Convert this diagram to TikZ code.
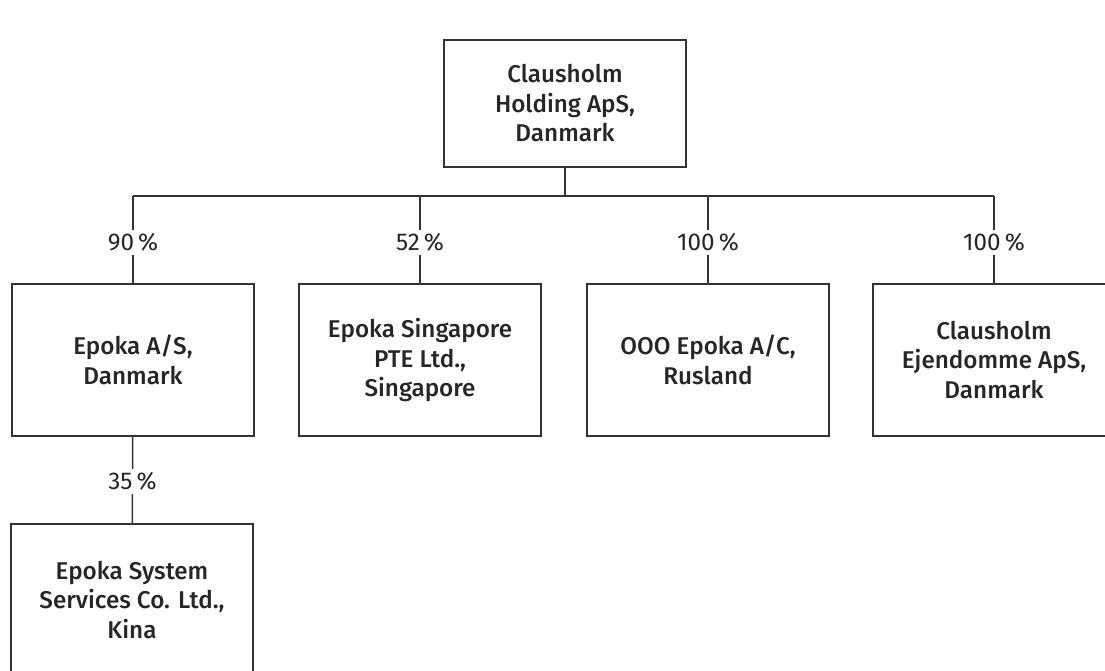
\documentclass[tikz,border=0pt]{standalone}
\usepackage{fontspec}
\setsansfont{Fira Sans}[BoldFont={* Medium}]
\begin{document}
\begin{tikzpicture}[x=0.02cm,y=-0.02cm,
  font=\sffamily\fontsize{13.8}{16.8}\selectfont,
  box/.style={draw=black!80,line width=0.8pt,text=black!85,align=center,
    font=\sffamily\bfseries\fontsize{13.8}{16.8}\selectfont,
    minimum width=4.84cm,minimum height=3.04cm,inner sep=0pt},
  link/.style={draw=black!80,line width=0.8pt},
  pct/.style={fill=white,text=black!85,inner sep=2pt,pos=0.53}]
\useasboundingbox (0,0) rectangle (1105,670);
\coordinate (H) at (565,103.5);
\coordinate (E1) at (133,360);
\coordinate (E2) at (420,360);
\coordinate (E3) at (708,360);
\coordinate (E4) at (994,360);
\coordinate (K) at (132,600);
\coordinate (B) at (565,196);
\node[box,minimum height=2.54cm] (holding) at (H) {Clausholm\\Holding ApS,\\Danmark};
\node[box] (epoka) at (E1) {Epoka A/S,\\Danmark};
\node[box] (singapore) at (E2) {Epoka Singapore\\PTE Ltd.,\\Singapore};
\node[box] (rusland) at (E3) {OOO Epoka A/C,\\Rusland};
\node[box] (ejendomme) at (E4) {Clausholm\\Ejendomme ApS,\\Danmark};
\node[box] (kina) at (K) {Epoka System\\Services Co. Ltd.,\\Kina};
\draw[link] (holding) -- (B);
\draw[link] (epoka.north |- B) -- (ejendomme.north |- B);
\draw[link] (epoka.north |- B) -- node[pct] {90\,\%} (epoka.north);
\draw[link] (singapore.north |- B) -- node[pct] {52\,\%} (singapore.north);
\draw[link] (rusland.north |- B) -- node[pct] {100\,\%} (rusland.north);
\draw[link] (ejendomme.north |- B) -- node[pct] {100\,\%} (ejendomme.north);
\draw[link] (epoka) -- node[pct,pos=0.52] {35\,\%} (kina);
\end{tikzpicture}
\end{document}
